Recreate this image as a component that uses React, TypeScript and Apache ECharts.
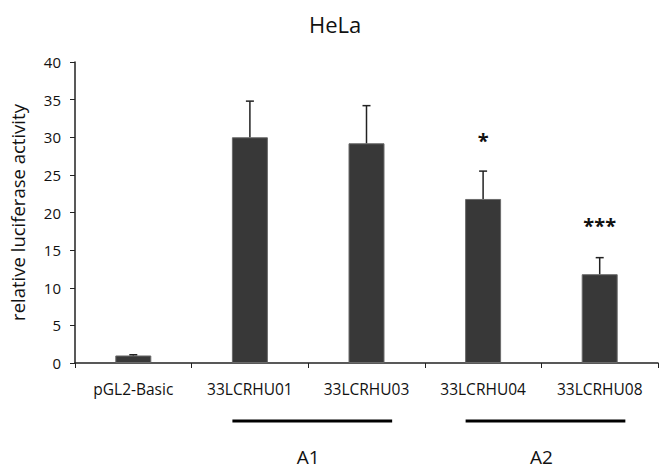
import React, { useEffect, useRef } from "react";
import * as echarts from "echarts";

const categories = ["pGL2-Basic", "33LCRHU01", "33LCRHU03", "33LCRHU04", "33LCRHU08"];
const values = [1.0, 30.0, 29.2, 21.8, 11.8];
const errorTops = [1.1, 34.8, 34.2, 25.5, 14.0];
const significance = ["", "", "", "*", "***"];
const starLevels = [0, 0, 0, 29.9, 18.6];
const groupLabels = ["A1", "A2"];
const groupStarts = [1, 3];
const groupEnds = [2, 4];
const yTicks = [0, 5, 10, 15, 20, 25, 30, 35, 40];

const FONT = "'Open Sans', 'Noto Sans', sans-serif";

export default function App() {
  const ref = useRef<HTMLDivElement>(null);
  useEffect(() => {
    if (!ref.current) return;
    const chart = echarts.init(ref.current, null, { renderer: "svg" });
    chart.setOption({
      animation: false,
      backgroundColor: "#ffffff",
      title: {
        text: "HeLa",
        left: 304,
        top: 8,
        textStyle: { fontFamily: FONT, fontSize: 22, fontWeight: "normal", color: "#111" },
      },
      grid: { left: 72, right: 11, top: 62, bottom: 112 },
      xAxis: {
        type: "category",
        data: categories,
        axisLine: { lineStyle: { color: "#222", width: 1.5 } },
        axisTick: { show: true, length: 5, lineStyle: { color: "#222" } },
        axisLabel: { fontFamily: FONT, fontSize: 15.5, color: "#111", margin: 18 },
      },
      yAxis: {
        type: "value",
        min: yTicks[0],
        max: yTicks[yTicks.length - 1],
        interval: 5,
        name: "relative luciferase activity",
        nameLocation: "middle",
        nameGap: 48,
        nameTextStyle: { fontFamily: FONT, fontSize: 18.5, color: "#111" },
        splitLine: { show: false },
        axisLine: { show: true, lineStyle: { color: "#222", width: 1.5 } },
        axisTick: { show: true, length: 5, lineStyle: { color: "#222" } },
        axisLabel: { fontFamily: FONT, fontSize: 15, color: "#111", margin: 14 },
      },
      series: [
        {
          type: "bar",
          data: values,
          barWidth: 36,
          itemStyle: { color: "#383838", borderColor: "#6a6a6a", borderWidth: 1 },
        },
        {
          type: "custom",
          data: values.map((v, i) => [i, v, errorTops[i]]),
          renderItem: (params: any, api: any) => {
            const i = api.value(0);
            const base = api.coord([i, api.value(1)]);
            const top = api.coord([i, api.value(2)]);
            const hw = 4;
            return {
              type: "group",
              children: [
                { type: "line", shape: { x1: base[0], y1: base[1], x2: top[0], y2: top[1] }, style: { stroke: "#222", lineWidth: 1.5 } },
                { type: "line", shape: { x1: top[0] - hw, y1: top[1], x2: top[0] + hw, y2: top[1] }, style: { stroke: "#222", lineWidth: 1.5 } },
              ],
            };
          },
          z: 5,
        },
        {
          type: "custom",
          data: significance.map((s, i) => [i, starLevels[i], s]),
          renderItem: (params: any, api: any) => {
            const idx = params.dataIndex;
            const s = significance[idx];
            if (!s) return null;
            const p = api.coord([api.value(0), api.value(1)]);
            return {
              type: "text",
              x: p[0],
              y: p[1] + 2,
              style: { text: s, fontFamily: FONT, fontSize: 20, fontWeight: "bold", fill: "#111", align: "center", verticalAlign: "middle" },
            };
          },
          z: 6,
        },
        {
          type: "custom",
          clip: false,
          data: groupLabels.map((g, i) => [groupStarts[i], groupEnds[i]]),
          renderItem: (params: any, api: any) => {
            const idx = params.dataIndex;
            const a = api.coord([api.value(0), 0]);
            const b = api.coord([api.value(1), 0]);
            const band = b[0] - a[0];
            const x1 = a[0] - band * 0.15;
            const x2 = b[0] + band * 0.22;
            const ly = a[1] + 58;
            return {
              type: "group",
              children: [
                { type: "line", shape: { x1, y1: ly, x2, y2: ly }, style: { stroke: "#000", lineWidth: 3 } },
                {
                  type: "text",
                  x: (x1 + x2) / 2 - 4,
                  y: ly + 36,
                  style: { text: groupLabels[idx], fontFamily: FONT, fontSize: 19, fill: "#111", align: "center", verticalAlign: "middle" },
                },
              ],
            };
          },
        },
      ],
    });
    return () => chart.dispose();
  }, []);
  return <div ref={ref} style={{ width: 669, height: 475, margin: -8 }} />;
}
